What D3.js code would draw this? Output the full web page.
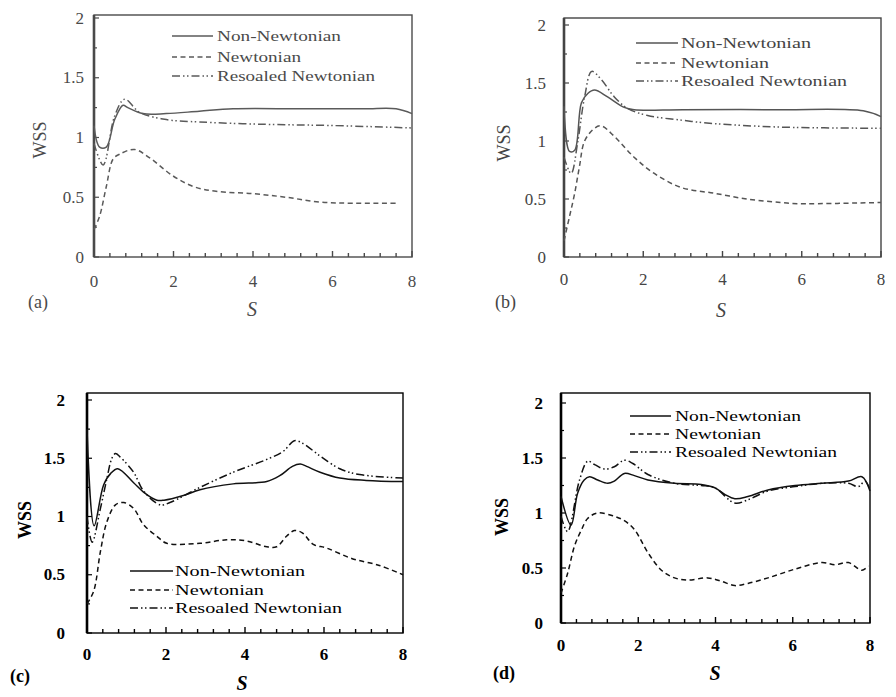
<!DOCTYPE html>
<html>
<head>
<meta charset="utf-8">
<script src="https://cdn.jsdelivr.net/npm/d3@7"></script>
<style>
  body { margin: 0; background: #fff; }
  svg text { font-family: "Liberation Serif", "Times New Roman", serif; }
</style>
</head>
<body>
<div id="chart"></div>
<script>
// WSS along S, four cases; each series is [S, WSS]
var seriesNames = ["Non-Newtonian", "Newtonian", "Resoaled Newtonian"];
var xTicks = [0, 2, 4, 6, 8];
var yTicks = [0, 0.5, 1, 1.5, 2];
var yTickLabels = ["0", "0.5", "1", "1.5", "2"];

var aNonNewtonian = [[0, 1.1], [0.14, 0.92], [0.31, 0.92], [0.52, 1.15], [0.73, 1.27], [0.85, 1.25], [1.23, 1.2],
  [1.82, 1.2], [2.65, 1.22], [3.5, 1.24], [5.2, 1.24], [6.8, 1.24], [7.6, 1.24], [8, 1.2]];
var aNewtonian = [[0, 0.23], [0.14, 0.34], [0.31, 0.59], [0.48, 0.82], [0.64, 0.86], [1.02, 0.9], [1.4, 0.83],
  [1.98, 0.68], [2.5, 0.59], [3.07, 0.55], [4, 0.53], [4.83, 0.5], [5.67, 0.46], [6.5, 0.45], [7.6, 0.45]];
var aRescaled = [[0, 0.95], [0.23, 0.77], [0.52, 1.18], [0.77, 1.32], [1.15, 1.21], [1.82, 1.15], [2.65, 1.13],
  [4.33, 1.11], [6, 1.1], [8, 1.08]];

var bNonNewtonian = [[0, 1.3], [0.14, 0.91], [0.27, 0.92], [0.44, 1.33], [0.6, 1.41], [0.77, 1.44], [1.1, 1.38],
  [1.52, 1.29], [1.77, 1.27], [3, 1.27], [5.5, 1.27], [7.55, 1.26], [8, 1.21]];
var bNewtonian = [[0, 0.14], [0.14, 0.35], [0.27, 0.55], [0.39, 0.78], [0.52, 1.0], [0.77, 1.11], [0.94, 1.13],
  [1.27, 1.04], [1.77, 0.86], [2.28, 0.72], [2.95, 0.6], [3.78, 0.55], [4.62, 0.5], [5.46, 0.47], [5.9, 0.46], [8, 0.47]];
var bRescaled = [[0, 0.86], [0.18, 0.72], [0.35, 1.0], [0.52, 1.38], [0.7, 1.6], [0.94, 1.53], [1.27, 1.38],
  [1.61, 1.28], [2.11, 1.22], [2.95, 1.18], [3.78, 1.15], [5.46, 1.12], [8, 1.11]];

var cNonNewtonian = [[0, 1.75], [0.18, 0.92], [0.42, 1.27], [0.6, 1.37], [0.78, 1.41], [1.18, 1.29], [1.43, 1.21],
  [1.77, 1.14], [1.95, 1.14], [2.44, 1.18], [2.86, 1.23], [3.7, 1.28], [4.55, 1.3], [4.88, 1.35], [5.2, 1.43],
  [5.4, 1.45], [5.56, 1.43], [5.9, 1.38], [6.4, 1.33], [7.07, 1.31], [8, 1.3]];
var cNewtonian = [[0, 0.25], [0.17, 0.36], [0.34, 0.7], [0.5, 0.95], [0.72, 1.1], [0.93, 1.12], [1.18, 1.07],
  [1.43, 0.93], [1.77, 0.83], [2.02, 0.77], [2.86, 0.77], [3.54, 0.8], [4.04, 0.79], [4.55, 0.74], [4.8, 0.74],
  [5.05, 0.83], [5.25, 0.88], [5.45, 0.86], [5.73, 0.76], [6.06, 0.73], [6.7, 0.64], [7.4, 0.58], [8, 0.5]];
var cRescaled = [[0, 1.0], [0.13, 0.78], [0.34, 1.07], [0.5, 1.32], [0.63, 1.5], [0.72, 1.54], [0.84, 1.51],
  [1.18, 1.38], [1.43, 1.22], [1.85, 1.1], [2.1, 1.12], [2.86, 1.25], [3.7, 1.38], [4.55, 1.49], [4.97, 1.56],
  [5.25, 1.65], [5.45, 1.63], [5.9, 1.52], [6.4, 1.41], [6.9, 1.36], [8, 1.33]];

var dNonNewtonian = [[0, 1.15], [0.26, 0.89], [0.43, 1.18], [0.6, 1.3], [0.74, 1.33], [0.95, 1.3], [1.21, 1.27],
  [1.38, 1.29], [1.64, 1.36], [1.9, 1.34], [2.25, 1.3], [2.94, 1.27], [3.63, 1.26], [3.98, 1.23], [4.24, 1.17],
  [4.5, 1.13], [4.84, 1.15], [5.36, 1.21], [6.06, 1.25], [6.75, 1.27], [7.44, 1.29], [7.79, 1.33], [8, 1.2]];
var dNewtonian = [[0, 0.27], [0.17, 0.45], [0.35, 0.7], [0.52, 0.84], [0.69, 0.95], [0.95, 1.0], [1.38, 0.97],
  [1.64, 0.93], [1.9, 0.85], [2.25, 0.64], [2.6, 0.48], [2.94, 0.41], [3.29, 0.39], [3.8, 0.41], [4.15, 0.38],
  [4.5, 0.34], [4.84, 0.36], [5.36, 0.41], [6.06, 0.49], [6.75, 0.55], [7.1, 0.53], [7.44, 0.55], [7.79, 0.48], [7.96, 0.52]];
var dRescaled = [[0, 0.97], [0.17, 0.83], [0.48, 1.3], [0.69, 1.47], [0.87, 1.44], [1.12, 1.4], [1.38, 1.42],
  [1.64, 1.48], [1.86, 1.45], [2.25, 1.35], [2.94, 1.27], [3.63, 1.25], [3.98, 1.23], [4.5, 1.09], [4.84, 1.12],
  [5.36, 1.2], [6.06, 1.24], [6.75, 1.27], [7.44, 1.27], [7.7, 1.24], [7.87, 1.29], [8, 1.21]];

var width = 896, height = 697;

var panels = [
  { tag: "(a)", data: [aNonNewtonian, aNewtonian, aRescaled], ink: "#4a4a4a", line: "#5a5a5a", bold: false,
    left: 94, right: 412, top: 15, bottom: 257, y0: 257, y2: 18,
    tickEnd: 84, xLabY: 281, sPos: [252, 309], tagPos: [28, 302], wssPos: [40, 140],
    legend: { x1: 172, x2: 213, tx: 217, rows: [35, 56, 75], w: [124, 84, 158] } },
  { tag: "(b)", data: [bNonNewtonian, bNewtonian, bRescaled], ink: "#444", line: "#555", bold: false,
    left: 564, right: 881, top: 18, bottom: 257, y0: 257, y2: 25,
    tickEnd: 546, xLabY: 279, sPos: [721, 310], tagPos: [495, 302], wssPos: [504, 143],
    legend: { x1: 636, x2: 678, tx: 681, rows: [42, 62, 80], w: [130, 88, 166] } },
  { tag: "(c)", data: [cNonNewtonian, cNewtonian, cRescaled], ink: "#000", line: "#111", bold: true,
    left: 87, right: 403, top: 393, bottom: 633, y0: 633, y2: 400,
    tickEnd: 65, xLabY: 654, sPos: [242, 683], tagPos: [10, 676], wssPos: [25, 520],
    legend: { x1: 130, x2: 173, tx: 175, rows: [570, 589, 607], w: [130, 89, 167] } },
  { tag: "(d)", data: [dNonNewtonian, dNewtonian, dRescaled], ink: "#000", line: "#111", bold: true,
    left: 561, right: 870, top: 393, bottom: 623, y0: 623, y2: 403,
    tickEnd: 543, xLabY: 645, sPos: [715, 673], tagPos: [493, 673], wssPos: [502, 517],
    legend: { x1: 630, x2: 671, tx: 675, rows: [415, 433, 451], w: [126, 86, 162] } }
];

var dashes = [null, "5,3.5", "8,3,1.5,2.5,1.5,3"];

var svg = d3.select("#chart").append("svg")
  .attr("width", width)
  .attr("height", height)
  .attr("viewBox", [0, 0, width, height]);

svg.append("rect").attr("width", width).attr("height", height).attr("fill", "#fff");

panels.forEach(function (p) {
  var g = svg.append("g");
  var weight = p.bold ? "bold" : "normal";

  var x = d3.scaleLinear().domain([0, 8]).range([p.left, p.right]);
  var y = d3.scaleLinear().domain([0, 2]).range([p.y0, p.y2]);

  // frame
  g.append("rect")
    .attr("x", p.left).attr("y", p.top)
    .attr("width", p.right - p.left).attr("height", p.bottom - p.top)
    .attr("fill", "none").attr("stroke", p.ink).attr("stroke-width", 1.4);
  g.append("line")
    .attr("x1", p.left).attr("x2", p.left).attr("y1", p.top).attr("y2", p.bottom)
    .attr("stroke", p.ink).attr("stroke-width", 2.6);

  // inward ticks along the bottom
  var xMinor = d3.range(0, 8.001, 0.4);
  g.selectAll(".xt").data(xMinor).enter().append("line")
    .attr("x1", (d) => x(d)).attr("x2", (d) => x(d))
    .attr("y1", p.bottom)
    .attr("y2", (d) => p.bottom - (Math.abs(d % 2) < 0.01 || Math.abs(d % 2 - 2) < 0.01 ? 6 : 4))
    .attr("stroke", p.ink).attr("stroke-width", 1.4);

  // inward ticks along the left side
  var yMinor = d3.range(0, 2.001, 0.25);
  g.selectAll(".yt").data(yMinor).enter().append("line")
    .attr("x1", p.left).attr("x2", (d) => p.left + (Math.abs(d % 0.5) < 0.01 ? 5 : 3))
    .attr("y1", (d) => y(d)).attr("y2", (d) => y(d))
    .attr("stroke", p.ink).attr("stroke-width", 1.2);

  // tick labels
  g.selectAll(".xl").data(xTicks).enter().append("text")
    .attr("x", (d) => x(d)).attr("y", p.xLabY)
    .attr("text-anchor", "middle").attr("dominant-baseline", "central")
    .attr("font-size", 17).attr("font-weight", weight).attr("fill", p.ink)
    .text((d) => d);

  g.selectAll(".yl").data(yTicks).enter().append("text")
    .attr("x", p.tickEnd).attr("y", (d) => y(d))
    .attr("text-anchor", "end").attr("dominant-baseline", "central")
    .attr("font-size", 17).attr("font-weight", weight).attr("fill", p.ink)
    .text((d, i) => yTickLabels[i]);

  // axis titles and panel tag
  g.append("text")
    .attr("transform", "translate(" + p.wssPos[0] + "," + p.wssPos[1] + ") rotate(-90)")
    .attr("text-anchor", "middle").attr("dominant-baseline", "central")
    .attr("font-size", 18).attr("font-weight", weight).attr("fill", p.ink)
    .text("WSS");

  g.append("text")
    .attr("x", p.sPos[0]).attr("y", p.sPos[1])
    .attr("text-anchor", "middle").attr("dominant-baseline", "central")
    .attr("font-size", 20).attr("font-style", "italic").attr("font-weight", weight).attr("fill", p.ink)
    .text("S");

  g.append("text")
    .attr("x", p.tagPos[0]).attr("y", p.tagPos[1])
    .attr("dominant-baseline", "central")
    .attr("font-size", 18).attr("font-weight", weight).attr("fill", p.ink)
    .text(p.tag);

  // curves
  var line = d3.line()
    .x((d) => x(d[0]))
    .y((d) => y(d[1]))
    .curve(d3.curveCatmullRom.alpha(0.5));

  p.data.forEach(function (series, i) {
    g.append("path")
      .datum(series)
      .attr("d", line)
      .attr("fill", "none")
      .attr("stroke", p.line)
      .attr("stroke-width", 1.5)
      .attr("stroke-dasharray", dashes[i]);
  });

  // legend
  seriesNames.forEach(function (name, i) {
    var ry = p.legend.rows[i];
    g.append("line")
      .attr("x1", p.legend.x1).attr("x2", p.legend.x2)
      .attr("y1", ry + 1).attr("y2", ry + 1)
      .attr("stroke", p.line).attr("stroke-width", 1.5)
      .attr("stroke-dasharray", dashes[i]);
    g.append("text")
      .attr("x", p.legend.tx).attr("y", ry)
      .attr("dominant-baseline", "central")
      .attr("font-size", 15.5).attr("fill", p.ink)
      .attr("textLength", p.legend.w[i])
      .attr("lengthAdjust", "spacingAndGlyphs")
      .text(name);
  });
});
</script>
</body>
</html>
